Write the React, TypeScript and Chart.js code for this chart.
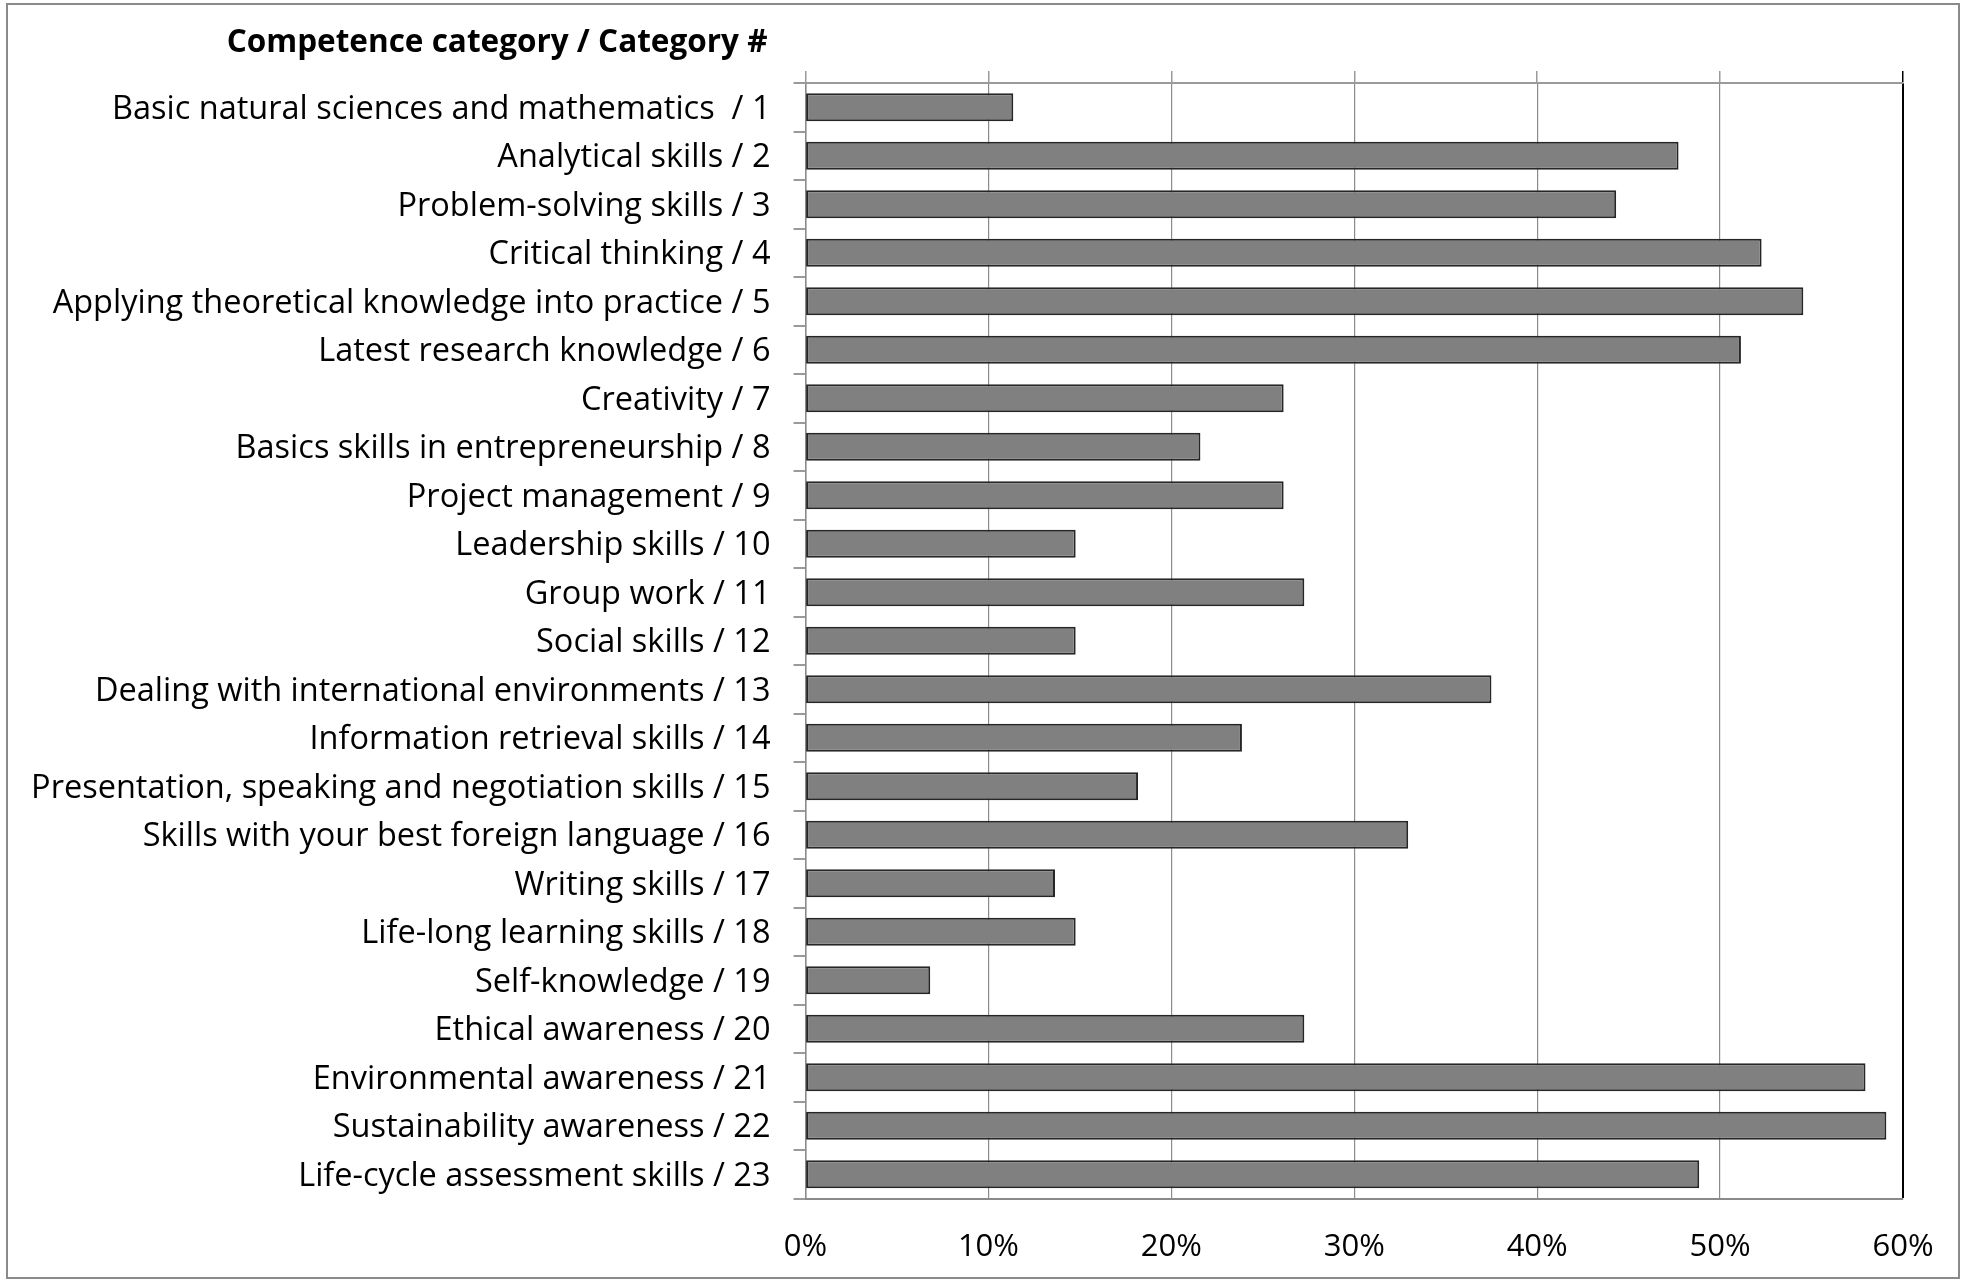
import React, { useEffect, useRef } from "react";
import { Chart, registerables } from "chart.js";

Chart.register(...registerables);

const categories: string[] = [
  "Basic natural sciences and mathematics  / 1",
  "Analytical skills / 2",
  "Problem-solving skills / 3",
  "Critical thinking / 4",
  "Applying theoretical knowledge into practice / 5",
  "Latest research knowledge / 6",
  "Creativity / 7",
  "Basics skills in entrepreneurship / 8",
  "Project management / 9",
  "Leadership skills / 10",
  "Group work / 11",
  "Social skills / 12",
  "Dealing with international environments / 13",
  "Information retrieval skills / 14",
  "Presentation, speaking and negotiation skills / 15",
  "Skills with your best foreign language / 16",
  "Writing skills / 17",
  "Life-long learning skills / 18",
  "Self-knowledge / 19",
  "Ethical awareness / 20",
  "Environmental awareness / 21",
  "Sustainability awareness / 22",
  "Life-cycle assessment skills / 23",
];

const shares: number[] = [
  11.36, 47.73, 44.32, 52.27, 54.55, 51.14, 26.14, 21.59, 26.14, 14.77, 27.27,
  14.77, 37.5, 23.86, 18.18, 32.95, 13.64, 14.77, 6.82, 27.27, 57.95, 59.09,
  48.86,
];

const xTicks: number[] = [0, 10, 20, 30, 40, 50, 60];
const axisTitle = "Competence category / Category #";

const FONT = "'Open Sans'";

export default function App() {
  const ref = useRef<HTMLCanvasElement | null>(null);

  useEffect(() => {
    if (!ref.current) return;
    const titlePlugin = {
      id: "catTitle",
      afterDraw(chart: any) {
        const ctx = chart.ctx;
        ctx.save();
        ctx.font = `bold 31.5px ${FONT}`;
        ctx.fillStyle = "#000";
        ctx.textAlign = "right";
        ctx.textBaseline = "middle";
        ctx.fillText(axisTitle, chart.chartArea.left - 38, 43);
        ctx.restore();
      },
    };
    const chart = new Chart(ref.current, {
      type: "bar",
      data: {
        labels: categories,
        datasets: [
          {
            data: shares,
            backgroundColor: "#808080",
            borderColor: "#262626",
            borderWidth: 2,
            borderSkipped: false,
            barPercentage: 0.58,
            categoryPercentage: 1,
          },
        ],
      },
      options: {
        indexAxis: "y",
        responsive: false,
        animation: false,
        layout: { padding: { left: 0, right: 61, top: 71, bottom: 0 } },
        plugins: {
          legend: { display: false },
          tooltip: { enabled: false },
          title: { display: false },
        },
        scales: {
          y: {
            type: "category",
            position: "left",
            offset: true,
            grid: {
              offset: true,
              drawOnChartArea: false,
              drawTicks: true,
              tickLength: 12,
              color: "#9a9a9a",
              lineWidth: 2,
            },
            border: { display: true, color: "#8a8a8a", width: 1.5 },
            ticks: {
              color: "#000",
              padding: 23,
              labelOffset: 2,
              font: { family: FONT, size: 32.5 },
              autoSkip: false,
            },
            afterFit(scale: any) {
              scale.width = 805.5;
            },
          },
          x: {
            type: "linear",
            position: "bottom",
            min: 0,
            max: 60,
            afterBuildTicks(scale: any) {
              scale.ticks = xTicks.map((v) => ({ value: v }));
            },
            grid: {
              drawTicks: false,
              color: (c: any) => (c.tick && c.tick.value === 60 ? "#000" : "#8c8c8c"),
              lineWidth: (c: any) => (c.tick && c.tick.value === 60 ? 2 : 1.2),
            },
            border: { display: true, color: "#8a8a8a", width: 2 },
            ticks: {
              color: "#000",
              padding: 30,
              font: { family: FONT, size: 31 },
              callback: (v: any) => `${v}%`,
              maxRotation: 0,
            },
            afterFit(scale: any) {
              scale.height = 81.5;
            },
          },
          x2: {
            type: "linear",
            position: "top",
            min: 0,
            max: 60,
            afterBuildTicks(scale: any) {
              scale.ticks = xTicks.map((v) => ({ value: v }));
            },
            grid: {
              drawOnChartArea: false,
              drawTicks: true,
              tickLength: 12,
              color: (c: any) => (c.tick && c.tick.value === 60 ? "#000" : "#9a9a9a"),
              lineWidth: 1.5,
            },
            border: { display: true, color: "#9a9a9a", width: 2 },
            ticks: { display: false },
            afterFit(scale: any) {
              scale.height = 12;
            },
          },
        },
      },
      plugins: [titlePlugin],
    } as any);
    return () => chart.destroy();
  }, []);

  return (
    <div style={{ position: "absolute", left: 0, top: 0, width: 1964, height: 1280, background: "#fff" }}>
      <canvas ref={ref} width={1964} height={1280} style={{ position: "absolute", left: 0, top: 0 }} />
      <div
        style={{
          position: "absolute",
          left: 6,
          top: 3,
          width: 1954,
          height: 1276,
          boxSizing: "border-box",
          border: "2px solid #8a8a8a",
          pointerEvents: "none",
        }}
      />
    </div>
  );
}
